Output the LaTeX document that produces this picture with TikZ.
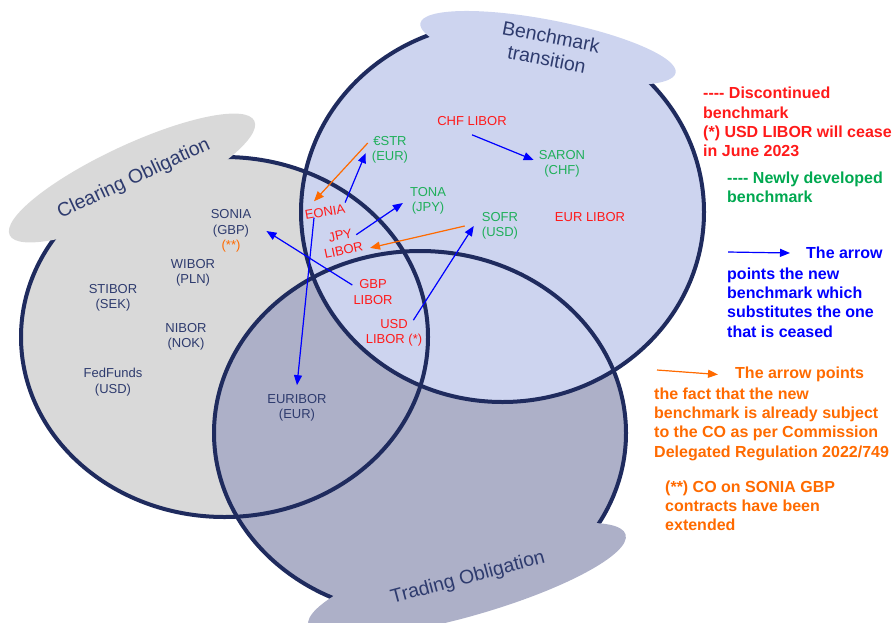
\documentclass[tikz,border=0pt]{standalone}
\usepackage{fontspec}
\setmainfont{Liberation Sans}
\usetikzlibrary{arrows.meta}
\definecolor{ringnavy}{HTML}{1F2B5E}
\definecolor{txtnavy}{HTML}{2E3B6E}
\definecolor{cofill}{HTML}{D9D9D9}
\definecolor{btfill}{HTML}{CDD4EF}
\definecolor{tofill}{HTML}{ADB0C8}
\definecolor{oldred}{HTML}{FF1A1A}
\definecolor{newgreen}{HTML}{1FAF5A}
\definecolor{legendgreen}{HTML}{00A850}
\definecolor{subblue}{HTML}{0000FF}
\definecolor{coorange}{HTML}{FF6A00}

\begin{document}
\begin{tikzpicture}[x=1pt,y=-1pt,>={Triangle[length=10pt,width=8pt]},
  rate node/.style={font=\fontsize{13}{15.5}\selectfont,text=txtnavy,align=center,inner sep=1pt},
  old node/.style={rate node,text=oldred},
  new node/.style={rate node,text=newgreen},
  tab text/.style={font=\fontsize{19.5}{23}\selectfont,text=txtnavy,align=center},
  ring/.style={draw=ringnavy,line width=4pt},
  subst/.style={->,draw=subblue,fill=subblue,line width=1.2pt},
  co/.style={->,draw=coorange,fill=coorange,line width=1.2pt},
  legend/.style={font=\bfseries\fontsize{16}{19.3}\selectfont,align=left,inner sep=0pt,anchor=north west}]

  \useasboundingbox (0,0) rectangle (893,622);

  % the three sets
  \fill[cofill] (224.5,337) ellipse (203.5 and 180);
  \fill[tofill] (420,433) ellipse (206 and 182);
  \fill[btfill] (502.5,212) ellipse (201.5 and 190);
  \draw[ring] (224.5,337) ellipse (203.5 and 180);
  \draw[ring] (420,433) ellipse (206 and 182);
  \draw[ring] (502.5,212) ellipse (201.5 and 190);

  % tabs
  \fill[cofill,rotate around={25:(132,178)}] (132,178) ellipse (135 and 33);
  \fill[btfill,rotate around={-11:(548,48)}] (548,48) ellipse (130 and 28);
  \fill[tofill,rotate around={16:(467,580)}] (467,580) ellipse (165 and 36);
  \node[tab text,rotate=25] (cotab) at (134,179) {Clearing Obligation};
  \node[tab text,rotate=-11] (bttab) at (549,48) {Benchmark\\transition};
  \node[tab text,rotate=15] (totab) at (468,578) {Trading Obligation};

  % rates
  \node[rate node] (sonia) at (231,231) {SONIA\\(GBP)\\{\color{coorange}(**)}};
  \node[rate node] (wibor) at (193,273) {WIBOR\\(PLN)};
  \node[rate node] (stibor) at (113,298) {STIBOR\\(SEK)};
  \node[rate node] (nibor) at (186,337) {NIBOR\\(NOK)};
  \node[rate node] (fedfunds) at (113,382) {FedFunds\\(USD)};
  \node[rate node] (euribor) at (297,408) {EURIBOR\\(EUR)};

  \node[old node] (chf) at (472,121) {CHF LIBOR};
  \node[old node] (eurlibor) at (590,217) {EUR LIBOR};
  \node[old node,rotate=10] (eonia) at (325,212) {EONIA};
  \node[old node,rotate=12] (jpy) at (342,243) {JPY\\LIBOR};
  \node[old node] (gbp) at (373,292) {GBP\\LIBOR};
  \node[old node] (usd) at (394,333) {USD\\LIBOR (*)};

  \node[new node] (saron) at (562,164) {SARON\\(CHF)};
  \node[new node] (estr) at (390,150) {€STR\\(EUR)};
  \node[new node] (tona) at (428,201) {TONA\\(JPY)};
  \node[new node] (sofr) at (500,226) {SOFR\\(USD)};

  \draw[subst] ([yshift=-8pt]chf.south) -- ([xshift=-4pt,yshift=4pt]saron.west);
  \draw[subst] (eonia.north east) -- ([xshift=-5pt,yshift=-3pt]estr.west);
  \draw[co] ([xshift=-3pt,yshift=7pt]estr.west) -- ([xshift=-10pt,yshift=5pt]eonia.north);
  \draw[subst] ([xshift=-12pt]eonia.south) -- ([yshift=8pt]euribor.north);
  \draw[subst] ([xshift=-6pt,yshift=4pt]jpy.east) -- ([xshift=-6pt,yshift=-2pt]tona.west);
  \draw[co] ([xshift=-16pt]sofr.west) -- ([xshift=5pt,yshift=4pt]jpy.south east);
  \draw[subst] ([xshift=-10pt,yshift=-2pt]usd.north east) -- ([xshift=-7pt]sofr.west);
  \draw[subst] ([yshift=7pt]gbp.west) -- ([xshift=14pt]sonia.east);

  % legend
  \node[legend,text=oldred] (discont) at (703,87) {{-}{-}{-}{-} Discontinued\\benchmark\\(*) USD LIBOR will cease\\in June 2023};
  \node[legend,text=legendgreen] (newly) at (727,171.5) {{-}{-}{-}{-} Newly developed\\benchmark};

  \coordinate (bluetail) at (728,252);
  \node[legend,text=subblue,anchor=west] (bluehead) at (806,253) {The arrow};
  \node[legend,text=subblue] (bluebody) at (727,267.5) {points the new\\benchmark which\\substitutes the one\\that is ceased};
  \draw[subst] (bluetail) -- ([xshift=-16pt]bluehead.west);

  \coordinate (cotail) at (657,370);
  \node[legend,text=coorange,anchor=west] (cohead) at (735,374.5) {The arrow points};
  \node[legend,text=coorange] (cobody) at (654,387.5) {the fact that the new\\benchmark is already subject\\to the CO as per Commission\\Delegated Regulation 2022/749};
  \draw[co] (cotail) -- ([xshift=-17pt]cohead.west);

  \node[legend,text=coorange] (sonianote) at (665,480.5) {(**) CO on SONIA GBP\\contracts have been\\extended};
\end{tikzpicture}
\end{document}
